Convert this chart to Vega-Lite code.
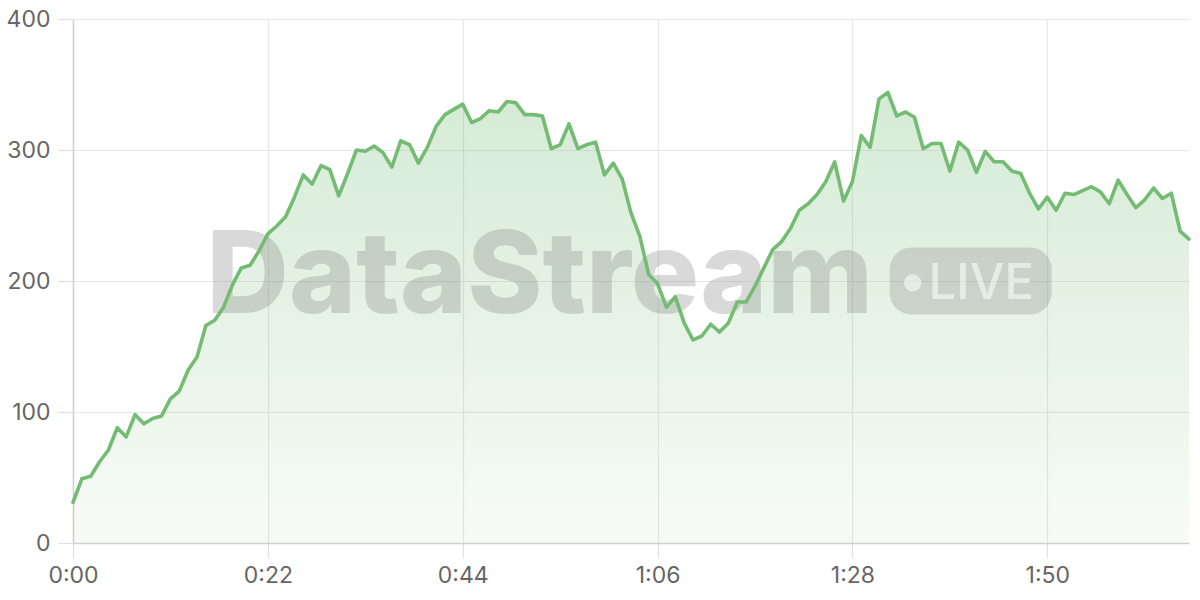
{
  "$schema": "https://vega.github.io/schema/vega-lite/v6.json",
  "width": 1200,
  "height": 600,
  "autosize": {"type": "fit", "contains": "padding"},
  "padding": {"left": 6, "top": 8, "right": 9, "bottom": 13},
  "background": "white",
  "config": {
    "view": {"stroke": null},
    "font": "Inter",
    "axis": {
      "labelFont": "Inter",
      "labelFontSize": 23,
      "labelColor": "#666666",
      "gridColor": "#e6e6e6",
      "gridWidth": 1.2,
      "tickColor": "#e0e0e0",
      "tickWidth": 1.2,
      "tickSize": 15,
      "domainColor": "#d0d0d0",
      "domainWidth": 1.5,
      "labelFlush": false,
      "title": null
    }
  },
  "datasets": {
    "series": [
      {"t":0,"v":31},{"t":1,"v":49},{"t":2,"v":51},{"t":3,"v":62},{"t":4,"v":71},{"t":5,"v":88},{"t":6,"v":81},{"t":7,"v":98},{"t":8,"v":91},{"t":9,"v":95},
      {"t":10,"v":97},{"t":11,"v":110},{"t":12,"v":116},{"t":13,"v":132},{"t":14,"v":142},{"t":15,"v":166},{"t":16,"v":170},{"t":17,"v":180},{"t":18,"v":197},{"t":19,"v":210},
      {"t":20,"v":212},{"t":21,"v":223},{"t":22,"v":236},{"t":23,"v":242},{"t":24,"v":249},{"t":25,"v":264},{"t":26,"v":281},{"t":27,"v":274},{"t":28,"v":288},{"t":29,"v":285},
      {"t":30,"v":265},{"t":31,"v":282},{"t":32,"v":300},{"t":33,"v":299},{"t":34,"v":303},{"t":35,"v":298},{"t":36,"v":287},{"t":37,"v":307},{"t":38,"v":304},{"t":39,"v":290},
      {"t":40,"v":302},{"t":41,"v":318},{"t":42,"v":327},{"t":43,"v":331},{"t":44,"v":335},{"t":45,"v":321},{"t":46,"v":324},{"t":47,"v":330},{"t":48,"v":329},{"t":49,"v":337},
      {"t":50,"v":336},{"t":51,"v":327},{"t":52,"v":327},{"t":53,"v":326},{"t":54,"v":301},{"t":55,"v":304},{"t":56,"v":320},{"t":57,"v":301},{"t":58,"v":304},{"t":59,"v":306},
      {"t":60,"v":281},{"t":61,"v":290},{"t":62,"v":278},{"t":63,"v":252},{"t":64,"v":234},{"t":65,"v":205},{"t":66,"v":198},{"t":67,"v":180},{"t":68,"v":188},{"t":69,"v":168},
      {"t":70,"v":155},{"t":71,"v":158},{"t":72,"v":167},{"t":73,"v":161},{"t":74,"v":168},{"t":75,"v":184},{"t":76,"v":184},{"t":77,"v":196},{"t":78,"v":210},{"t":79,"v":224},
      {"t":80,"v":230},{"t":81,"v":240},{"t":82,"v":254},{"t":83,"v":259},{"t":84,"v":266},{"t":85,"v":276},{"t":86,"v":291},{"t":87,"v":261},{"t":88,"v":276},{"t":89,"v":311},
      {"t":90,"v":302},{"t":91,"v":339},{"t":92,"v":344},{"t":93,"v":326},{"t":94,"v":329},{"t":95,"v":325},{"t":96,"v":301},{"t":97,"v":305},{"t":98,"v":305},{"t":99,"v":284},
      {"t":100,"v":306},{"t":101,"v":300},{"t":102,"v":283},{"t":103,"v":299},{"t":104,"v":291},{"t":105,"v":291},{"t":106,"v":284},{"t":107,"v":282},{"t":108,"v":267},{"t":109,"v":255},
      {"t":110,"v":264},{"t":111,"v":254},{"t":112,"v":267},{"t":113,"v":266},{"t":114,"v":269},{"t":115,"v":272},{"t":116,"v":268},{"t":117,"v":259},{"t":118,"v":277},{"t":119,"v":266},
      {"t":120,"v":256},{"t":121,"v":262},{"t":122,"v":271},{"t":123,"v":263},{"t":124,"v":267},{"t":125,"v":238},{"t":126,"v":232}
    ],
    "watermark": [
      {"label": "DataStream", "badge": "LIVE", "tx": 52.7, "ty": 175.6, "bx": 92.2, "bx2": 110.5, "by": 225.5, "by2": 174.5, "dx": 94.8, "dy": 198.5, "lx": 96.6, "ly": 186.0}
    ]
  },
  "layer": [
    {
      "data": {"name": "series"},
      "mark": {
        "type": "area",
        "interpolate": "linear",
        "fill": {
          "x1": 0, "y1": 0, "x2": 0, "y2": 1,
          "gradient": "linear",
          "stops": [
            {"offset": 0, "color": "rgba(116,188,116,0.30)"},
            {"offset": 1, "color": "rgba(116,188,116,0.06)"}
          ]
        }
      },
      "encoding": {
        "x": {
          "field": "t",
          "type": "quantitative",
          "scale": {"domain": [0, 126], "nice": false, "zero": false},
          "axis": {
            "values": [0, 22, 44, 66, 88, 110],
            "labelExpr": "floor(datum.value / 60) + ':' + (datum.value % 60 < 10 ? '0' : '') + (datum.value % 60)",
            "labelPadding": 6,
            "grid": true
          }
        },
        "y": {
          "field": "v",
          "type": "quantitative",
          "scale": {"domain": [0, 400], "nice": false},
          "axis": {"values": [0, 100, 200, 300, 400], "labelPadding": 8, "grid": true}
        }
      }
    },
    {
      "data": {"name": "watermark"},
      "mark": {"type": "text", "font": "Inter", "fontWeight": 800, "fontSize": 114, "align": "center", "baseline": "alphabetic", "fill": "#8a8a8a", "fillOpacity": 0.32, "letterSpacing": -2.5},
      "encoding": {"x": {"field": "tx", "type": "quantitative"}, "y": {"field": "ty", "type": "quantitative"}, "text": {"field": "label"}}
    },
    {
      "data": {"name": "watermark"},
      "mark": {"type": "rect", "cornerRadius": 22, "fill": "#8a8a8a", "fillOpacity": 0.3},
      "encoding": {"x": {"field": "bx", "type": "quantitative"}, "x2": {"field": "bx2"}, "y": {"field": "by", "type": "quantitative"}, "y2": {"field": "by2"}}
    },
    {
      "data": {"name": "watermark"},
      "mark": {"type": "point", "shape": "circle", "filled": true, "size": 300, "fill": "#ffffff", "fillOpacity": 0.55, "opacity": 1, "strokeWidth": 0},
      "encoding": {"x": {"field": "dx", "type": "quantitative"}, "y": {"field": "dy", "type": "quantitative"}}
    },
    {
      "data": {"name": "watermark"},
      "mark": {"type": "text", "font": "Inter", "fontWeight": 500, "fontSize": 49, "align": "left", "baseline": "alphabetic", "fill": "#ffffff", "fillOpacity": 0.55, "letterSpacing": -1},
      "encoding": {"x": {"field": "lx", "type": "quantitative"}, "y": {"field": "ly", "type": "quantitative"}, "text": {"field": "badge"}}
    },
    {
      "data": {"name": "series"},
      "mark": {"type": "line", "interpolate": "linear", "stroke": "#74bc74", "strokeWidth": 3.6, "strokeJoin": "round", "strokeCap": "round"},
      "encoding": {"x": {"field": "t", "type": "quantitative"}, "y": {"field": "v", "type": "quantitative"}}
    }
  ]
}
